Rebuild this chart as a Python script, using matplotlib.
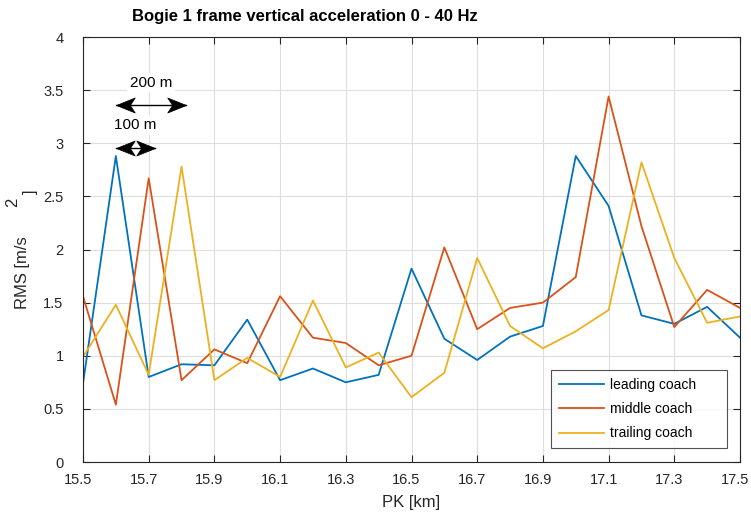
import matplotlib.pyplot as plt
import matplotlib.transforms as mtransforms
from matplotlib.path import Path

plt.rcParams['font.family'] = ['Liberation Sans', 'DejaVu Sans']

# chainage along the line, one value every 100 m
pk = [15.5, 15.6, 15.7, 15.8, 15.9, 16.0, 16.1, 16.2, 16.3, 16.4, 16.5,
      16.6, 16.7, 16.8, 16.9, 17.0, 17.1, 17.2, 17.3, 17.4, 17.5]

leading = [0.74, 2.88, 0.80, 0.92, 0.91, 1.34, 0.77, 0.88, 0.75, 0.82, 1.82,
           1.16, 0.96, 1.18, 1.28, 2.88, 2.41, 1.38, 1.30, 1.46, 1.17]
middle = [1.56, 0.54, 2.67, 0.77, 1.06, 0.93, 1.56, 1.17, 1.12, 0.91, 1.00,
          2.02, 1.25, 1.45, 1.50, 1.74, 3.44, 2.22, 1.27, 1.62, 1.45]
trailing = [0.99, 1.48, 0.82, 2.78, 0.77, 0.98, 0.80, 1.52, 0.89, 1.03, 0.61,
            0.84, 1.92, 1.28, 1.07, 1.23, 1.43, 2.82, 1.92, 1.31, 1.37]

series = [("leading coach", leading, "#0072BD"),
          ("middle coach", middle, "#D95319"),
          ("trailing coach", trailing, "#EDB120")]

xticks = [15.5, 15.7, 15.9, 16.1, 16.3, 16.5, 16.7, 16.9, 17.1, 17.3, 17.5]
yticks = [0, 0.5, 1, 1.5, 2, 2.5, 3, 3.5, 4]

W, H = 751, 514
fig = plt.figure(figsize=(W / 100, H / 100), dpi=100)
ax = fig.add_axes([83 / W, 1 - 462 / H, (740 - 83) / W, (462 - 37) / H])

for name, vals, col in series:
    ax.plot(pk, vals, color=col, lw=1.3, label=name)

ax.set_xlim(15.5, 17.5)
ax.set_ylim(0, 4)
ax.set_xticks(xticks)
ax.set_xticklabels([f"{t:.1f}" for t in xticks])
ax.set_yticks(yticks)
ax.set_yticklabels([f"{t:g}" for t in yticks])
ax.tick_params(direction='in', top=True, right=True, length=5,
               labelsize=10.5, color='#262626', labelcolor='#262626')
ax.tick_params(axis='x', pad=8)
ax.tick_params(axis='y', pad=14)
ax.grid(True, color='#dedede', lw=0.8)
ax.set_axisbelow(True)
for sp in ax.spines.values():
    sp.set_color('#262626')
    sp.set_linewidth(0.8)

# x tick labels sit a few pixels left of their ticks
shift = mtransforms.ScaledTranslation(-5 / 100, 0, fig.dpi_scale_trans)
for lbl in ax.get_xticklabels():
    lbl.set_transform(lbl.get_transform() + shift)

ax.set_xlabel("PK [km]", fontsize=12, color='#262626', labelpad=6)

# y label laid out in pieces, superscript sits apart from the text
fig.text(23 / W, 1 - 309 / H, "RMS [m/s", rotation=90, rotation_mode='anchor',
         ha='left', va='center', fontsize=12, color='#262626')
fig.text(13 / W, 1 - 202 / H, "2", rotation=90, rotation_mode='anchor',
         ha='center', va='center', fontsize=12, color='#262626')
fig.text(30 / W, 1 - 192 / H, "]", rotation=90, rotation_mode='anchor',
         ha='center', va='center', fontsize=12, color='#262626')

fig.text(305 / W, 1 - 17 / H, "Bogie 1 frame vertical acceleration 0 - 40 Hz",
         ha='center', va='center', fontsize=12, fontweight='bold', color='black')

# notched arrow heads, tip at the origin
head_r = Path([(0, 0), (-1, 0.4), (-0.74, 0), (-1, -0.4), (0, 0)],
              [Path.MOVETO, Path.LINETO, Path.LINETO, Path.LINETO, Path.CLOSEPOLY])
head_l = Path([(0, 0), (1, 0.4), (0.74, 0), (1, -0.4), (0, 0)],
              [Path.MOVETO, Path.LINETO, Path.LINETO, Path.LINETO, Path.CLOSEPOLY])

# distance markers
for x0, x1, y, label, ty in [(15.6, 15.815, 3.36, "200 m", 3.57),
                             (15.6, 15.72, 2.96, "100 m", 3.17)]:
    ax.plot([x0, x1], [y, y], color='black', lw=1.0)
    ax.plot([x1], [y], marker=head_r, ms=27, color='black', mew=0.5, mec='black')
    ax.plot([x0], [y], marker=head_l, ms=27, color='black', mew=0.5, mec='black')
    ax.text((x0 + x1) / 2, ty, label, ha='center', va='center', fontsize=11,
            bbox=dict(facecolor='white', edgecolor='none', pad=2))

leg = ax.legend(loc='lower left', mode='expand',
                bbox_to_anchor=(551 / W, 1 - 448 / H, 176 / W, 76 / H),
                bbox_transform=fig.transFigure, fontsize=10, frameon=True,
                fancybox=False, handlelength=3.3, handletextpad=0.4,
                borderpad=0.55, borderaxespad=0, labelspacing=0.75)
leg.get_frame().set_edgecolor('#262626')
leg.get_frame().set_linewidth(0.8)

fig.savefig("out.png", dpi=100)
